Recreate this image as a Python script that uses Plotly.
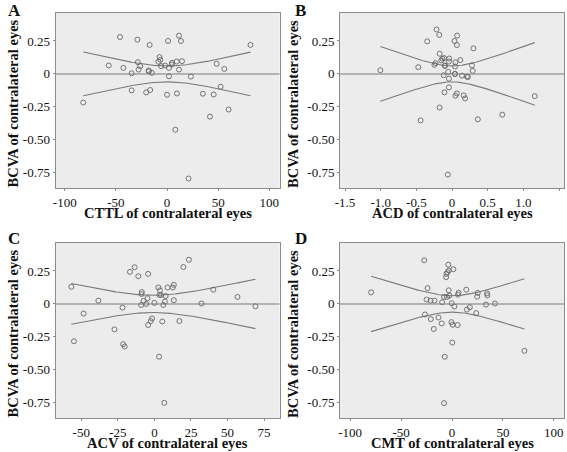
import numpy as np
import plotly.graph_objects as go

# ---------------- data ----------------
a_x = [-46, -29, -17, 1, 11.7, 13.6, 81.6, -57, -42.7, -28.5, -26.2, -27.8, -34.6, -18, -17.8,
       -14.9, -7.4, -6.5, -8.4, -5.8, -1.9, 1.9, 4.9, 4.5, 9.4, 14.6, 11.7, 1.9, 23.3, 48.5, 56,
       -34.6, -16.5, -20.4, 0, 9.7, 35, 45.6, 52.4, -81.9, 60.2, 42, 8.1, 21]
a_y = [0.28, 0.26, 0.22, 0.25, 0.29, 0.25, 0.22, 0.064, 0.046, 0.089, 0.059, 0.033, 0.005, 0.026, 0.02,
       0.008, 0.128, 0.107, 0.092, 0.059, 0.064, 0.046, 0.084, 0.071, 0.094, 0.097, 0.033, -0.018, -0.02, 0.077, 0.038,
       -0.125, -0.122, -0.14, -0.158, -0.148, -0.15, -0.156, -0.097, -0.217, -0.27, -0.324, -0.423, -0.793]

b_x = [-0.217, -0.179, 0.072, 0.034, 0.068, -0.348, 0.3, -0.174, -0.135, -0.111, -0.15, -0.039, -0.043,
       0.048, 0.116, -0.232, -0.246, -0.101, -0.098, 0.043, 0.28, -0.473, -1.005, -0.053, 0.29, -0.116, 0.039, 0.043,
       0.14, 0.208, 0.222, -0.043, -0.043, -0.106, 0.068, 0.048, 0.164, 0.184, 1.16, -0.174, -0.44,
       0.362, 0.705, -0.058]
b_y = [0.337, 0.296, 0.291, 0.25, 0.219, 0.247, 0.194, 0.153, 0.115, 0.12, 0.102, 0.117, 0.094,
       0.089, 0.105, 0.082, 0.069, 0.061, 0.063, 0.056, 0.064, 0.051, 0.028, 0.015, 0.023, -0.01, 0.0, 0.0,
       -0.013, -0.02, -0.023, -0.036, -0.102, -0.14, -0.148, -0.166, -0.163, -0.186, -0.168, -0.255, -0.352,
       -0.344, -0.309, -0.763]

c_x = [23.6, 19.8, -13.5, -16.7, -4.3, -11, -56.8, 13.3, 12.6, 9, 2.7, 3.8, 40.3, -8.6, -8.8, 3.4, 4.5,
       7.7, -4.7, -7.4, -38.3, 7.2, 13.3, 56.8, 0, -5.6, -9, 6.1, 32.2, 69.1, -21.8, -48.4, -1.6, -2.5,
       -4.3, 5.4, 17.1, -27.3, -55, -21.4, -20.3, 3.2, 6.8]
c_y = [0.335, 0.28, 0.278, 0.243, 0.228, 0.21, 0.13, 0.145, 0.125, 0.125, 0.125, 0.103, 0.108, 0.09, 0.075,
       0.068, 0.068, 0.06, 0.043, 0.023, 0.025, 0.018, 0.028, 0.053, 0.008, 0.0, -0.008, -0.008, 0.003, -0.018,
       -0.028, -0.073, -0.11, -0.13, -0.16, -0.133, -0.13, -0.193, -0.283, -0.305, -0.323, -0.4, -0.75]

d_x = [-27.3, -3.6, 1.3, -3.2, -4.5, -5.5, -5.8, -24, 14, -3.2, -79.5, 6.5, 25.3, 34.4, 5.8, 34.7, -2.6,
       -7.8, -4.9, 24.7, -25, -21.1, -17.2, -9.7, -0.3, 2.3, 42.2, 33.4, 17.5, 14.6, -26.6, -13.3, 23.7,
       -20.8, -10.1, -0.6, 0.6, 5.5, -17.9, 0.3, 71.1, -7.1, -7.8]
d_y = [0.331, 0.298, 0.263, 0.253, 0.24, 0.228, 0.203, 0.12, 0.108, 0.103, 0.088, 0.085, 0.083, 0.08, 0.07,
       0.065, 0.063, 0.053, 0.053, 0.055, 0.033, 0.025, 0.025, 0.013, 0.005, -0.02, 0.003, -0.005, -0.025,
       -0.043, -0.08, -0.103, -0.07, -0.115, -0.148, -0.138, -0.158, -0.16, -0.19, -0.293, -0.356, -0.401, -0.752]

# confidence band parameters: (centre x, half-width at centre, slope factor)
a_band = (0.0, 0.060, 0.00189)
b_band = (0.0, 0.060, 0.198)
c_band = (-1.0, 0.065, 0.00251)
d_band = (-0.1, 0.062, 0.00253)

x_titles = ["CTTL of contralateral eyes", "ACD of contralateral eyes",
            "ACV of contralateral eyes", "CMT of contralateral eyes"]
y_title = "BCVA of contralateral eyes"
panel_labels = ["A", "B", "C", "D"]

x_ticks = [[-100, -50, 0, 50, 100],
           [-1.5, -1.0, -0.5, 0, 0.5, 1.0, 1.5],
           [-50, -25, 0, 25, 50, 75],
           [-100, -50, 0, 50, 100]]
x_ticktext = [["-100", "-50", "0", "50", "100"],
              ["-1.5", "-1.0", "-0.5", "0", "0.5", "1.0", "1.5"],
              ["-50", "-25", "0", "25", "50", "75"],
              ["-100", "-50", "0", "50", "100"]]
y_ticks = [0.25, 0, -0.25, -0.5, -0.75]
y_ticktext = ["0.25", "0", "-0.25", "-0.50", "-0.75"]

x_ranges = [[-109, 110], [-1.57, 1.57], [-67.6, 85.6], [-110, 110]]
y_range = [-0.865, 0.462]

# ---------------- layout geometry ----------------
W, H = 567, 452
px_x = [(51, 277), (338, 564), (51, 277), (338, 564)]
px_y = [(13, 188), (13, 188), (243, 418), (243, 418)]
ytitle_x = [8, 290, 8, 290]
label_pos = [(2, 0), (292, 0), (2, 228), (292, 228)]

series = [(a_x, a_y, a_band), (b_x, b_y, b_band), (c_x, c_y, c_band), (d_x, d_y, d_band)]

fig = go.Figure()
SERIF = "Liberation Serif"
GRAY = "#7a7a7a"
annotations = []
shapes = []

for i, (xs, ys, band) in enumerate(series):
    n = i + 1
    xa = "x" if n == 1 else f"x{n}"
    ya = "y" if n == 1 else f"y{n}"
    x0, c, k = band
    xb = np.linspace(min(xs), max(xs), 200)
    hw = np.sqrt(c ** 2 + (k * (xb - x0)) ** 2)
    fig.add_trace(go.Scatter(x=xb, y=hw, mode="lines", line=dict(color=GRAY, width=1.1),
                             xaxis=xa, yaxis=ya, hoverinfo="skip", showlegend=False))
    fig.add_trace(go.Scatter(x=xb, y=-hw, mode="lines", line=dict(color=GRAY, width=1.1),
                             xaxis=xa, yaxis=ya, hoverinfo="skip", showlegend=False))
    fig.add_trace(go.Scatter(x=xs, y=ys, mode="markers",
                             marker=dict(symbol="circle-open", size=5, color="#666666",
                                         line=dict(width=0.9, color="#666666")),
                             xaxis=xa, yaxis=ya, showlegend=False))
    shapes.append(dict(type="line", xref=f"{xa} domain", yref=ya, x0=0, x1=1, y0=0, y1=0,
                       line=dict(color=GRAY, width=1.1), layer="above"))

    l, r = px_x[i]
    t, b = px_y[i]
    dom_x = [l / W, r / W]
    dom_y = [1 - b / H, 1 - t / H]
    axis_common = dict(showgrid=False, zeroline=False, showline=True, linecolor="#8c8c8c",
                       linewidth=1, mirror=True, ticks="outside", ticklen=2, tickcolor="#8c8c8c",
                       tickfont=dict(family=SERIF, size=13, color="#111"))
    fig.layout[f"xaxis{'' if n == 1 else n}"] = dict(
        domain=dom_x, anchor=ya, range=x_ranges[i], tickvals=x_ticks[i], ticktext=x_ticktext[i],
        **axis_common)
    fig.layout[f"yaxis{'' if n == 1 else n}"] = dict(
        domain=dom_y, anchor=xa, range=y_range, tickvals=y_ticks, ticktext=y_ticktext,
        **axis_common)

    # axis titles
    annotations.append(dict(text=f"<b>{x_titles[i]}</b>", xref="paper", yref="paper",
                            x=(l + r) / 2 / W, y=1 - (b + 25) / H, showarrow=False,
                            font=dict(family=SERIF, size=14.5, color="#111"),
                            xanchor="center", yanchor="middle"))
    annotations.append(dict(text=f"<b>{y_title}</b>", xref="paper", yref="paper",
                            x=ytitle_x[i] / W, y=1 - (t + b + 6) / 2 / H, showarrow=False,
                            textangle=-90, font=dict(family=SERIF, size=14.5, color="#111"),
                            xanchor="center", yanchor="middle"))
    lx, ly = label_pos[i]
    annotations.append(dict(text=f"<b>{panel_labels[i]}</b>", xref="paper", yref="paper",
                            x=lx / W, y=1 - ly / H, showarrow=False,
                            font=dict(family=SERIF, size=17, color="#111"),
                            xanchor="left", yanchor="top", borderpad=0))

fig.update_layout(width=W, height=H, margin=dict(l=0, r=0, t=0, b=0),
                  paper_bgcolor="white", plot_bgcolor="#ececec",
                  annotations=annotations, shapes=shapes, showlegend=False)

fig.write_html("out.html", config={"displayModeBar": False},
               post_script="document.body.style.margin='0';document.body.style.overflow='hidden';")
